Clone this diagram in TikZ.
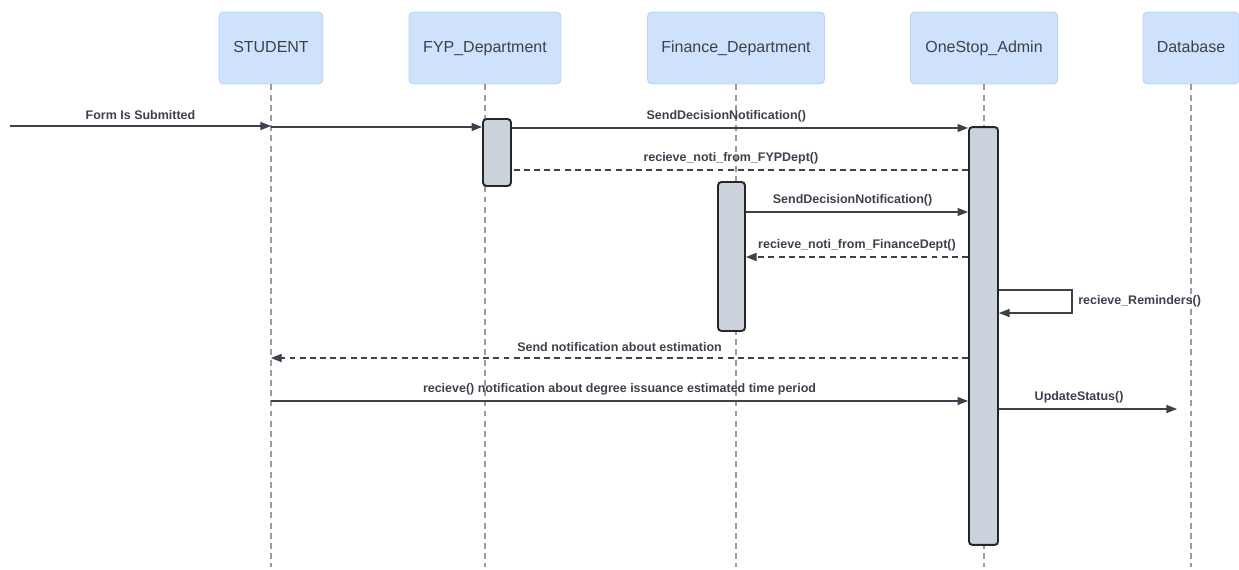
\documentclass[tikz,border=0pt]{standalone}
\usepackage{fontspec}
\setmainfont{Liberation Sans}
\usetikzlibrary{arrows.meta,positioning,calc}

\definecolor{headfill}{HTML}{CFE2FB}
\definecolor{headline}{HTML}{B9D3F5}
\definecolor{actfill}{HTML}{CBD2DB}
\definecolor{ink}{HTML}{3C414B}
\definecolor{lifegray}{HTML}{9C9C9C}

\begin{document}
\begin{tikzpicture}[x=0.02cm,y=-0.02cm,>={Triangle[length=6pt,width=4.6pt]},
	head/.style={rectangle,rounded corners=2.5pt,draw=headline,line width=0.5pt,fill=headfill,
		minimum height=1.44cm,inner sep=0pt,text height=6.6pt,text depth=1.6pt,text=ink,
		font=\fontsize{9.1pt}{10pt}\selectfont},
	life/.style={draw=lifegray,line width=0.6pt,dash pattern=on 3.4pt off 2.4pt},
	act/.style={rectangle,rounded corners=2pt,draw=black!85,line width=1.1pt,fill=actfill,inner sep=0pt},
	msg/.style={draw=ink,line width=0.6pt},
	reply/.style={msg,dash pattern=on 3.4pt off 2.4pt},
	lbl/.style={text=ink,inner sep=3.3pt,font=\bfseries\fontsize{7.1pt}{8pt}\selectfont}]
	\useasboundingbox (0,0) rectangle (1239,570);

	% participants
	\node[head,minimum width=2.08cm] (student) at (271,48) {STUDENT};
	\node[head,minimum width=3.04cm] (fyp) at (485,48) {FYP\_Department};
	\node[head,minimum width=3.54cm] (fin) at (736,48) {Finance\_Department};
	\node[head,minimum width=2.94cm] (admin) at (984,48) {OneStop\_Admin};
	\node[head,minimum width=1.92cm] (db) at (1191,48) {Database};

	% lifelines
	\foreach \p in {student,fyp,fin,admin,db}
		\draw[life] (\p.south) -- (\p.south |- 0,567);

	% activation bars
	\node[act,minimum width=0.56cm,minimum height=1.34cm] (fypact) at (497,152.5) {};
	\node[act,minimum width=0.54cm,minimum height=2.98cm] (finact) at (731.5,256.5) {};
	\node[act,minimum width=0.58cm,minimum height=8.36cm] (adminact) at (983.5,336) {};

	\coordinate (start) at (10,126);

	% messages
	\path[->]
		(start) edge[msg] node[lbl,above] {Form Is Submitted} (student.south |- start)
		(student.south |- 0,127) edge[msg] (fypact.west |- 0,127)
		(fypact.east |- 0,128) edge[msg] node[lbl,above,pos=0.47] {SendDecisionNotification()} (adminact.west |- 0,128)
		(finact.east |- 0,212) edge[msg] node[lbl,above,pos=0.48] {SendDecisionNotification()} (adminact.west |- 0,212)
		(adminact.west |- 0,257) edge[reply] node[lbl,above] {recieve\_noti\_from\_FinanceDept()} (finact.east |- 0,257)
		(adminact.west |- 0,358) edge[reply] node[lbl,above] {Send notification about estimation} (student.south |- 0,358)
		(student.south |- 0,401) edge[msg] node[lbl,above] {recieve() notification about degree issuance estimated time period} (adminact.west |- 0,401)
		(adminact.east |- 0,409) edge[msg] node[lbl,above,pos=0.45] {UpdateStatus()} ($(db.south |- 0,409)+(-14,0)$);
	\draw[reply] (adminact.west |- 0,170) -- node[lbl,above,pos=0.52] {recieve\_noti\_from\_FYPDept()} (fypact.east |- 0,170);

	% reminder loop on the admin bar
	\draw[msg,->] (adminact.east |- 0,290) -- ++(73,0) -- node[lbl,right] {recieve\_Reminders()} ++(0,23) -- (adminact.east |- 0,313);
\end{tikzpicture}
\end{document}
